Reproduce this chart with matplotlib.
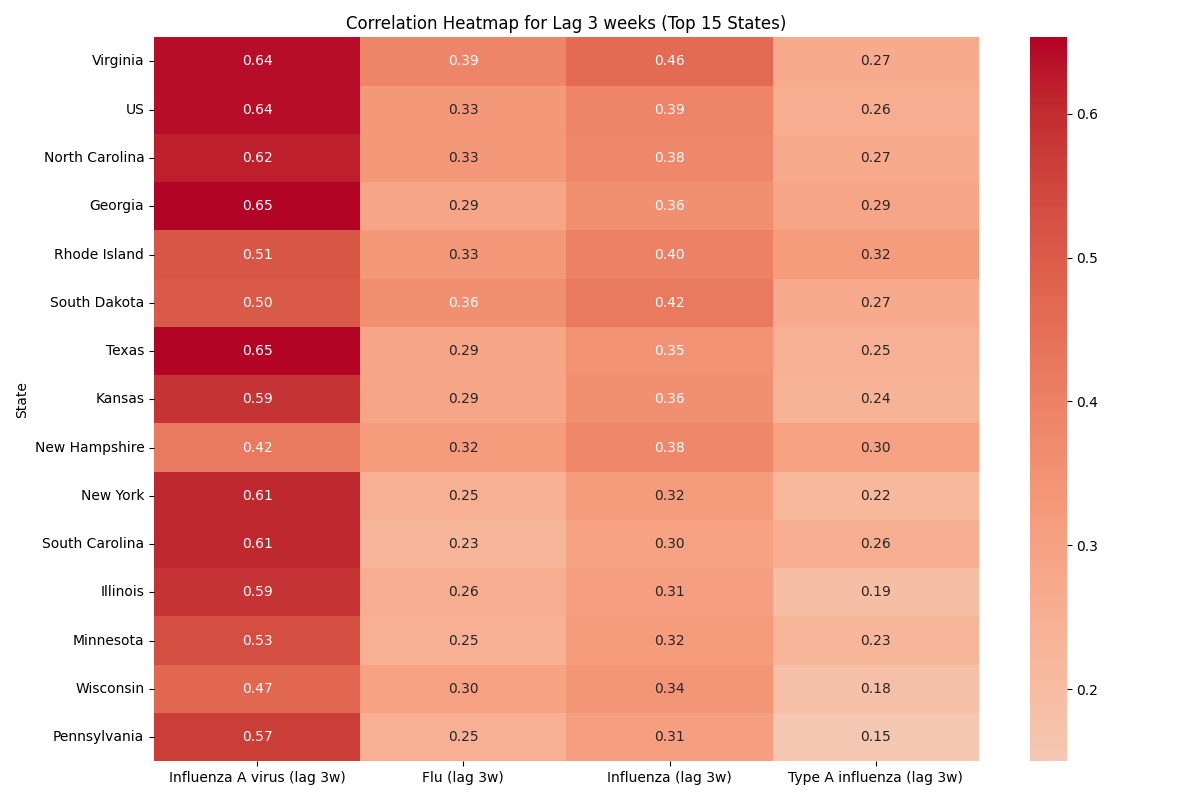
import matplotlib
matplotlib.use("Agg")
import matplotlib.pyplot as plt
import seaborn as sns
import pandas as pd

states = ["Virginia", "US", "North Carolina", "Georgia", "Rhode Island", "South Dakota",
          "Texas", "Kansas", "New Hampshire", "New York", "South Carolina", "Illinois",
          "Minnesota", "Wisconsin", "Pennsylvania"]
columns = ["Influenza A virus (lag 3w)", "Flu (lag 3w)", "Influenza (lag 3w)", "Type A influenza (lag 3w)"]
flu_a = [0.64, 0.64, 0.62, 0.65, 0.51, 0.50, 0.653, 0.59, 0.42, 0.61, 0.61, 0.59, 0.53, 0.47, 0.57]
flu = [0.39, 0.33, 0.33, 0.29, 0.33, 0.36, 0.29, 0.29, 0.32, 0.25, 0.23, 0.26, 0.25, 0.30, 0.25]
influenza = [0.46, 0.39, 0.38, 0.36, 0.40, 0.42, 0.35, 0.36, 0.38, 0.32, 0.30, 0.31, 0.32, 0.34, 0.31]
type_a = [0.27, 0.26, 0.27, 0.29, 0.32, 0.27, 0.25, 0.24, 0.30, 0.22, 0.26, 0.19, 0.23, 0.18, 0.15]

df = pd.DataFrame({columns[0]: flu_a, columns[1]: flu, columns[2]: influenza, columns[3]: type_a},
                  index=pd.Index(states, name="State"))

fig, ax = plt.subplots(figsize=(12, 8), dpi=100)
sns.heatmap(df, annot=True, fmt=".2f", cmap="coolwarm", center=0, ax=ax)
ax.set_title("Correlation Heatmap for Lag 3 weeks (Top 15 States)")
ax.set_ylabel("State")
plt.tight_layout()
plt.savefig("out.png")
